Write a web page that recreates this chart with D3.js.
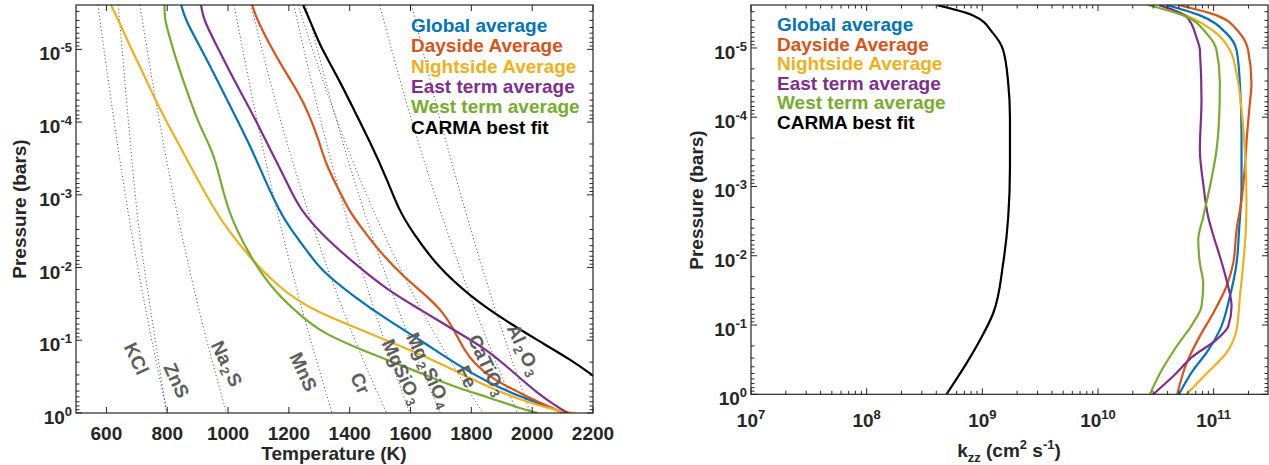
<!DOCTYPE html>
<html>
<head>
<meta charset="utf-8">
<script src="https://cdn.jsdelivr.net/npm/d3@7"></script>
<style>
body { margin: 0; background: #fff; }
svg text { font-family: "Liberation Sans", Arial, Helvetica, sans-serif; font-weight: bold; }
</style>
</head>
<body>
<svg id="chart" width="1269" height="465"></svg>
<script>
// series names + colours (matlab defaults)
var seriesNames = ["Global average", "Dayside Average", "Nightside Average",
                   "East term average", "West term average", "CARMA best fit"];
var colors = ["#0072BD", "#D95319", "#EDB120", "#7E2F8E", "#77AC30", "#000000"];

// left panel: [log10 P (bar), T (K)]
var globalTP = [[-5.61,846],[-5.41,859],[-4.99,914],[-4.54,969],[-4.08,1024],[-3.62,1079],[-3.16,1126],
  [-2.79,1168],[-2.56,1200],[-2.20,1265],[-1.97,1304],[-1.60,1414],[-1.28,1524],[-1.0,1633],[-0.64,1762],
  [-0.41,1860],[-0.22,1963],[-0.09,2051],[0,2105]];
var daysideTP = [[-5.61,1079],[-5.41,1095],[-5.09,1134],[-4.76,1178],[-4.40,1232],[-4.12,1265],[-3.76,1298],
  [-3.43,1320],[-3.02,1370],[-2.79,1397],[-2.56,1436],[-2.20,1502],[-1.87,1578],[-1.60,1656],[-1.37,1710],
  [-1.14,1743],[-0.87,1776],[-0.68,1809],[-0.45,1875],[-0.27,1963],[-0.09,2051],[0,2105]];
var nightsideTP = [[-5.61,615],[-5.41,639],[-4.99,683],[-4.72,716],[-4.31,760],[-3.98,801],[-3.62,848],
  [-2.93,936],[-2.56,991],[-2.10,1079],[-1.78,1156],[-1.55,1226],[-1.37,1304],[-1.19,1410],[-1.0,1520],
  [-0.82,1625],[-0.59,1743],[-0.36,1853],[-0.18,1963],[-0.04,2073],[0,2139]];
var eastTP = [[-5.61,911],[-5.41,919],[-5.09,958],[-4.63,1013],[-4.21,1068],[-3.85,1112],[-3.39,1167],
  [-3.02,1211],[-2.79,1240],[-2.47,1304],[-2.06,1414],[-1.69,1524],[-1.42,1633],[-1.14,1743],[-0.87,1853],
  [-0.55,1941],[-0.27,2018],[-0.11,2073],[0,2117]];
var westTP = [[-5.61,791],[-5.41,791],[-5.14,810],[-4.90,826],[-4.49,859],[-3.98,903],[-3.71,936],[-3.48,958],
  [-3.11,980],[-2.79,1002],[-2.56,1024],[-2.10,1079],[-1.65,1156],[-1.32,1244],[-1.12,1304],[-0.91,1414],
  [-0.73,1524],[-0.55,1633],[-0.36,1743],[-0.22,1853],[-0.06,1963],[0,2018]];
var carmaTP = [[-5.61,1247],[-5.22,1287],[-5.04,1304],[-4.63,1359],[-4.17,1414],[-3.71,1469],[-3.20,1524],
  [-2.79,1562],[-2.52,1601],[-2.01,1688],[-1.60,1798],[-1.28,1908],[-1.0,2018],[-0.73,2128],[-0.50,2205]];

// condensation curves, T (K) read at these pressures
var condLogP = [-5.61, -4.5, -3.5, -2.5, -1.5, -0.75, 0];
var tKCl     = [572, 608, 643, 681, 725, 761, 800];
var tZnS     = [639, 662, 683, 706, 742, 770, 798];
var tNa2S    = [710, 753, 796, 844, 899, 945, 995];
var tMnS     = [1020, 1071, 1121, 1176, 1238, 1288, 1342];
var tCr      = [1075, 1141, 1208, 1283, 1369, 1441, 1521];
var tMgSiO3  = [1216, 1276, 1336, 1401, 1474, 1533, 1597];
var tMg2SiO4 = [1256, 1324, 1392, 1467, 1552, 1621, 1698];
var tFe      = [1230, 1316, 1404, 1506, 1623, 1724, 1838];
var tCaTiO3  = [1498, 1570, 1641, 1719, 1805, 1875, 1951];
var tAl2O3   = [1604, 1668, 1731, 1799, 1872, 1931, 1994];
var condNames = ["KCl", "ZnS", "Na_2S", "MnS", "Cr", "MgSiO_3", "Mg_2SiO_4", "Fe", "CaTiO_3", "Al_2O_3"];
// where each name sits: [T, log10 P]
var condLabelAt = [[700,-0.75],[832,-0.45],[997,-0.68],[1249,-0.57],[1436,-0.41],
                   [1573,-0.57],[1661,-0.59],[1787,-0.50],[1853,-0.66],[1974,-0.87]];

var tTicks = [600, 800, 1000, 1200, 1400, 1600, 1800, 2000, 2200];

// right panel: [log10 P (bar), log10 Kzz (cm2/s)]
var globalK = [[-5.62,10.593],[-5.47,10.881],[-5.21,11.111],[-4.97,11.198],[-4.49,11.227],[-3.77,11.241],
  [-3.0,11.241],[-2.37,11.22],[-1.89,11.198],[-1.41,11.14],[-0.93,11.054],[-0.60,10.939],[-0.35,10.823],[0,10.70]];
var daysideK = [[-5.62,10.693],[-5.47,11.025],[-5.21,11.227],[-4.97,11.298],[-4.49,11.327],[-4.15,11.31],
  [-3.77,11.29],[-3.28,11.27],[-2.80,11.241],[-2.37,11.198],[-1.89,11.169],[-1.56,11.111],[-1.17,10.996],
  [-0.84,10.881],[-0.45,10.766],[0,10.685]];
var nightsideK = [[-5.62,10.526],[-5.47,10.766],[-5.21,11.025],[-4.97,11.14],[-4.63,11.198],[-4.11,11.241],
  [-3.53,11.27],[-2.80,11.284],[-2.37,11.278],[-1.89,11.256],[-1.41,11.227],[-0.93,11.198],[-0.60,11.111],
  [-0.30,10.939],[0,10.766]];
var eastK = [[-5.62,10.529],[-5.45,10.766],[-5.15,10.852],[-4.97,10.881],[-4.25,10.895],[-3.53,10.881],
  [-3.04,10.91],[-2.56,10.953],[-2.3,10.996],[-1.99,11.054],[-1.65,11.111],[-1.27,11.155],[-0.98,11.126],
  [-0.79,11.025],[-0.55,10.823],[-0.26,10.65],[0,10.478]];
var westK = [[-5.62,10.433],[-5.47,10.737],[-5.21,10.939],[-4.97,11.025],[-4.49,11.054],[-4.01,11.048],
  [-3.53,11.025],[-3.0,10.968],[-2.56,10.91],[-2.23,10.867],[-1.89,10.881],[-1.6,10.91],[-1.27,10.895],
  [-1.03,10.823],[-0.69,10.679],[-0.30,10.535],[0,10.449]];
var carmaK = [[-5.62,8.605],[-5.47,8.92],[-5.21,9.094],[-4.97,9.18],[-4.49,9.224],[-4.0,9.239],[-3.28,9.239],
  [-2.56,9.224],[-1.89,9.18],[-1.17,9.094],[-0.78,8.979],[-0.45,8.864],[0,8.69]];

var pDecades = [-5, -4, -3, -2, -1, 0];
var kDecades = [7, 8, 9, 10, 11];

var svg = d3.select("#chart");
var axisColor = "#262626";

// ---------- helpers
function pow10(v) { return Math.pow(10, v); }

function tenTo(sel, e, supDy) {
  sel.append("tspan").text("10");
  sel.append("tspan").attr("dy", supDy).attr("font-size", 13).text(e);
}

function chem(sel, str) {
  var parts = str.split(/_(\d)/);
  parts.forEach(function(s, i) {
    if (!s) return;
    var t = sel.append("tspan").text(s);
    if (i % 2 == 1) t.attr("dy", 5).attr("dx", 2).attr("font-size", 13);
    else if (i > 0) t.attr("dy", -5).attr("dx", 2);
  });
}

function box(g, x0, x1, y0, y1) {
  g.append("rect").attr("x", x0).attr("y", y0).attr("width", x1 - x0).attr("height", y1 - y0)
    .attr("fill", "none").attr("stroke", axisColor).attr("stroke-width", 1.2);
}

function logYTicks(g, y, x0, x1) {
  var dom = y.domain();
  for (var k = -6; k <= 0; k++) {
    for (var m = 1; m <= 9; m++) {
      var v = m * pow10(k);
      if (v < dom[0] * 0.999 || v > dom[1] * 1.001) continue;
      var len = m == 1 ? 6 : 3.5;
      var yy = y(v);
      g.append("line").attr("x1", x0).attr("x2", x0 + len).attr("y1", yy).attr("y2", yy);
      g.append("line").attr("x1", x1).attr("x2", x1 - len).attr("y1", yy).attr("y2", yy);
    }
  }
}

function yLabels(g, y, xRight) {
  pDecades.forEach(function(k) {
    var t = g.append("text").attr("x", xRight).attr("y", y(pow10(k)) + 11)
      .attr("text-anchor", "end").attr("font-size", 19).attr("fill", axisColor);
    tenTo(t, k, -8);
  });
}

function legend(g, x, y0, step) {
  seriesNames.forEach(function(n, i) {
    g.append("text").attr("x", x).attr("y", y0 + i * step).attr("font-size", 19)
      .attr("fill", colors[i]).text(n);
  });
}

// ================= left panel =================
var xT = d3.scaleLinear().domain([500, 2200]).range([76, 593]);
var yP = d3.scaleLog().domain([pow10(-5.61), 1]).range([5, 413]);

svg.append("clipPath").attr("id", "clipL").append("rect")
  .attr("x", 76).attr("y", 5).attr("width", 517).attr("height", 408);

var left = svg.append("g");
var plotL = left.append("g").attr("clip-path", "url(#clipL)");

var condLine = d3.line()
  .x(function(d) { return xT(d[1]); })
  .y(function(d) { return yP(pow10(d[0])); })
  .curve(d3.curveBasis);

var condCurves = [tKCl, tZnS, tNa2S, tMnS, tCr, tMgSiO3, tMg2SiO4, tFe, tCaTiO3, tAl2O3];
condCurves.forEach(function(ts) {
  var pts = ts.map(function(t, i) { return [condLogP[i], t]; });
  plotL.append("path").attr("d", condLine(pts))
    .attr("fill", "none").attr("stroke", "#444").attr("stroke-width", 1)
    .attr("stroke-dasharray", "1,2.6");
});

var tpCurves = [globalTP, daysideTP, nightsideTP, eastTP, westTP, carmaTP];
tpCurves.forEach(function(c, i) {
  plotL.append("path").attr("d", condLine(c))
    .attr("fill", "none").attr("stroke", colors[i]).attr("stroke-width", 2.2);
});

// condensate names
condNames.forEach(function(n, i) {
  var cx = xT(condLabelAt[i][0]), cy = yP(pow10(condLabelAt[i][1]));
  var t = left.append("text").attr("text-anchor", "middle").attr("dominant-baseline", "central")
    .attr("font-size", 19).attr("fill", "#5e5e5e")
    .attr("transform", "translate(" + cx + "," + cy + ") rotate(65)");
  chem(t, n);
});

legend(left, 411, 32, 20.3);

box(left, 76, 593, 5, 413);
var tickL = left.append("g").attr("stroke", axisColor).attr("stroke-width", 1);
tTicks.forEach(function(v) {
  var xx = xT(v);
  tickL.append("line").attr("x1", xx).attr("x2", xx).attr("y1", 413).attr("y2", 407);
  tickL.append("line").attr("x1", xx).attr("x2", xx).attr("y1", 5).attr("y2", 11);
});
logYTicks(tickL, yP, 76, 593);

tTicks.forEach(function(v) {
  left.append("text").attr("x", xT(v)).attr("y", 440).attr("text-anchor", "middle")
    .attr("font-size", 19).attr("fill", axisColor).text(v);
});
yLabels(left, yP, 72);

left.append("text").attr("x", 334).attr("y", 460).attr("text-anchor", "middle")
  .attr("font-size", 19).attr("fill", axisColor).text("Temperature (K)");
left.append("text").attr("transform", "translate(26,209) rotate(-90)").attr("text-anchor", "middle")
  .attr("font-size", 19).attr("fill", axisColor).text("Pressure (bars)");

// ================= right panel =================
var xK = d3.scaleLog().domain([1e7, pow10(11.47)]).range([751, 1268]);
var yR = d3.scaleLog().domain([pow10(-5.62), 1]).range([5, 394.3]);

svg.append("clipPath").attr("id", "clipR").append("rect")
  .attr("x", 751).attr("y", 5).attr("width", 517).attr("height", 389.3);

var right = svg.append("g");
var plotR = right.append("g").attr("clip-path", "url(#clipR)");

var kLine = d3.line()
  .x(function(d) { return xK(pow10(d[1])); })
  .y(function(d) { return yR(pow10(d[0])); })
  .curve(d3.curveMonotoneY);

var kCurves = [globalK, daysideK, nightsideK, eastK, westK, carmaK];
kCurves.forEach(function(c, i) {
  plotR.append("path").attr("d", kLine(c))
    .attr("fill", "none").attr("stroke", colors[i]).attr("stroke-width", 2.2);
});

legend(right, 777, 31, 19.5);

box(right, 751, 1268, 5, 394.3);
var tickR = right.append("g").attr("stroke", axisColor).attr("stroke-width", 1);
for (var k = 7; k <= 11; k++) {
  for (var m = 1; m <= 9; m++) {
    var v = m * pow10(k);
    if (v > xK.domain()[1]) continue;
    var len = m == 1 ? 6 : 3.5;
    var xx = xK(v);
    tickR.append("line").attr("x1", xx).attr("x2", xx).attr("y1", 394.3).attr("y2", 394.3 - len);
    tickR.append("line").attr("x1", xx).attr("x2", xx).attr("y1", 5).attr("y2", 5 + len);
  }
}
logYTicks(tickR, yR, 751, 1268);

kDecades.forEach(function(k) {
  var t = right.append("text").attr("x", xK(pow10(k))).attr("y", 426.5).attr("text-anchor", "middle")
    .attr("font-size", 19).attr("fill", axisColor);
  tenTo(t, k, -8);
});
yLabels(right, yR, 747);

var xl = right.append("text").attr("x", 1009).attr("y", 457).attr("text-anchor", "middle")
  .attr("font-size", 19).attr("fill", axisColor);
xl.append("tspan").text("k");
xl.append("tspan").attr("dy", 5).attr("font-size", 13).text("zz");
xl.append("tspan").attr("dy", -5).text(" (cm");
xl.append("tspan").attr("dy", -8).attr("font-size", 13).text("2");
xl.append("tspan").attr("dy", 8).text(" s");
xl.append("tspan").attr("dy", -8).attr("font-size", 13).text("-1");
xl.append("tspan").attr("dy", 8).text(")");

right.append("text").attr("transform", "translate(703,200) rotate(-90)").attr("text-anchor", "middle")
  .attr("font-size", 19).attr("fill", axisColor).text("Pressure (bars)");
</script>
</body>
</html>
